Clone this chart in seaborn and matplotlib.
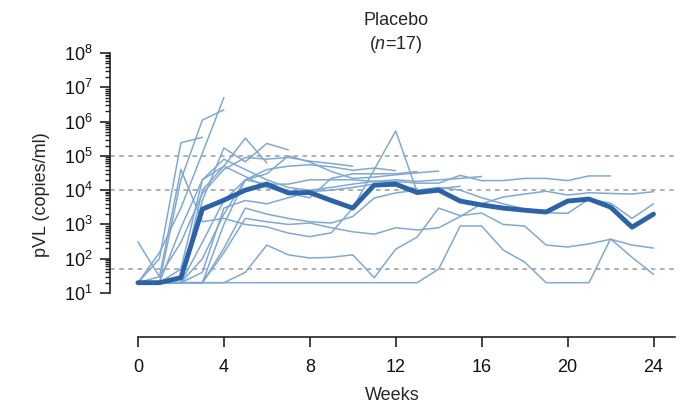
import numpy as np
import pandas as pd
import matplotlib
matplotlib.use("Agg")
import matplotlib.pyplot as plt
import seaborn as sns
from matplotlib.ticker import FixedLocator

nan = np.nan
weeks = list(range(25))

# individual participants (copies/ml), NaN = no sample
p01 = [20]*14 + [50, 900, 900, 180, 80, 20, 20, 20, 380, 110, 35]
p02 = [20, 20, 20, 20, 20, 40, 250, 130, 105, 110, 130, 28, 190, 430, 3000, 1800, 2150, 1000, 900, 250, 220, 270, 370, 250, 205]
p03 = [20, 30, 4e4, 1200, 1500, 1000, 850, 560, 440, 570, 3000, 4e4, 5.3e5, 8700, 1.1e4, 1.3e4] + [nan]*9
p05 = [20, 20, 20, 20, 150, 1500, 1200, 1000, 1100, 800, 610, 520, 800, 690, 800, 1700, 4000, 6300, 7700, 9300, 7200, 8400, 8000, 7700, 9000]
p07 = [20, 20, 50, 2e4, 5e4, 3.3e5, 6.2e4] + [nan]*18
p08 = [20, 20, 20, 5e3, 1.7e5, 6.7e4, 2.3e5, 1.5e5] + [nan]*17
p09 = [20, 20, 20, 100, 2e3, 2e4, 3e4, 1e5, 6.6e4, 3.5e4, 2.2e4, 2.4e4, 2.8e4, 3.2e4, 3.6e4] + [nan]*10
p10 = [20, 20, 20, 20, 1e3, 2e4, 4e4, 5e4, 5.5e4, 4.8e4, 3.8e4, 4.4e4, 3.7e4] + [nan]*12
p11 = [20, 20, 20, 300, 5e3, 2e4, 1.5e4, 1.5e4, 2e4, 2e4, 2e4, 1.8e4, 1.8e4, 1.6e4, 1.6e4, 2.7e4, 1.9e4, 1.9e4, 2.2e4, 2.2e4, 1.9e4, 2.6e4, 2.6e4, nan, nan]
p12 = [20, 20, 20, 20, 200, 3e3, 2e3, 1.5e3, 1.2e3, 1100, 1700, 5900, 8300, 1e4, 1.2e4, 1e4, 6e3, 4e3, 2.8e3, 2.2e3, 2.1e3, 5.5e3, 4.2e3, 1.5e3, 4e3]
e01 = [20, 150, 3e3, 1.2e5, 5e6] + [nan]*20
e02 = [20, 20, 2e4, 1.1e6, 2.2e6] + [nan]*20
e03 = [20, 100, 2.4e5, 3.5e5] + [nan]*21
s01 = [310, 30, 300, 8e3, 4e4, 9e4, 8e4, 9e4, 7e4, 6e4, 5e4] + [nan]*14
p13 = [20, 20, 20, 1e4, 5e4, 2.5e4, 1.2e4, 8e3, 6e3, 2.2e4, 3e4, 3e4, 3e4, 3.5e4] + [nan]*11
p14 = [20, 20, 20, 40, 3e3, 5e3, 4e3, 6e3, 9e3, 1e4, 1.2e4, 1.5e4, 1.3e4, 1.1e4] + [nan]*11
p15 = [20, 20, 800, 2e4, 8e4, 4e4, 2e4, 1.2e4, 1e4, 1.2e4, 1.5e4, 1.8e4, 2e4, 1.8e4, 2e4, 2.2e4, 2.5e4] + [nan]*8

participants = {"P01": p01, "P02": p02, "P03": p03, "P05": p05, "P07": p07, "P08": p08,
                "P09": p09, "P10": p10, "P11": p11, "P12": p12, "E01": e01, "E02": e02,
                "E03": e03, "S01": s01, "P13": p13, "P14": p14, "P15": p15}

median = [20, 20, 28, 2800, 5100, 1e4, 1.5e4, 8300, 8500, 5000, 3000, 1.4e4, 1.5e4, 8500, 1e4,
          4800, 3700, 3000, 2600, 2300, 4800, 5500, 3200, 830, 2000]

ref_lines = [1e5, 1e4, 50]
xticks = [0, 4, 8, 12, 16, 20, 24]

rows = []
for pid, vals in participants.items():
    for w, v in zip(weeks, vals):
        if not np.isnan(v):
            rows.append((pid, w, v))
df = pd.DataFrame(rows, columns=["pid", "week", "pVL"])

sns.set_theme(style="ticks")
plt.rcParams["font.family"] = ["Liberation Sans", "DejaVu Sans"]
plt.rcParams["mathtext.fontset"] = "custom"
plt.rcParams["mathtext.rm"] = "Liberation Sans"
plt.rcParams["mathtext.it"] = "Liberation Sans:italic"

fig = plt.figure(figsize=(6.84, 4.04), dpi=100)
ax = fig.add_axes([110/684, 67/404, (675-110)/684, (337-53)/404])

for y in ref_lines:
    ax.axhline(y, color="#9a9a9a", lw=1.1, ls=(0, (3, 3)), zorder=1)

sns.lineplot(data=df, x="week", y="pVL", units="pid", estimator=None,
             color="#80a9d2", lw=1.1, ax=ax, zorder=2)
sns.lineplot(x=weeks, y=median, color="#2c63a6", lw=3.5, ax=ax, zorder=3)

ax.set_yscale("log")
ax.set_ylim(10**-0.283, 1e8)
ax.set_xlim(-1.3, 25)
ax.yaxis.set_major_locator(FixedLocator([10**k for k in range(1, 9)]))
ax.yaxis.set_minor_locator(FixedLocator([m * 10**k for k in range(1, 8) for m in range(2, 10)]))
ax.set_xticks(xticks)
ax.set_xticklabels([str(t) for t in xticks])

for s in ["top", "right"]:
    ax.spines[s].set_visible(False)
ax.spines["left"].set_bounds(10, 1e8)
ax.spines["bottom"].set_bounds(0, 25)
for s in ["left", "bottom"]:
    ax.spines[s].set_linewidth(1.2)
    ax.spines[s].set_color("#222222")

ax.tick_params(axis="both", which="major", direction="out", length=7.5, width=1.2,
               color="#222222", labelsize=13, labelcolor="#111111", pad=5)
ax.tick_params(axis="x", which="major", pad=8)
ax.tick_params(axis="y", which="minor", direction="out", length=3.8, width=1.0, color="#222222")
ax.tick_params(axis="y", which="minor", labelleft=False)

ax.set_xlabel("Weeks", fontsize=13, labelpad=8)
ax.set_ylabel("pVL (copies/ml)", fontsize=13, labelpad=10)
ax.text(12, 0.994, "Placebo\n(" + r"$\mathit{n}$" + "=17)", transform=ax.get_xaxis_transform(),
        ha="center", va="bottom", fontsize=13, linespacing=1.3)

fig.savefig("out.png", dpi=100)
